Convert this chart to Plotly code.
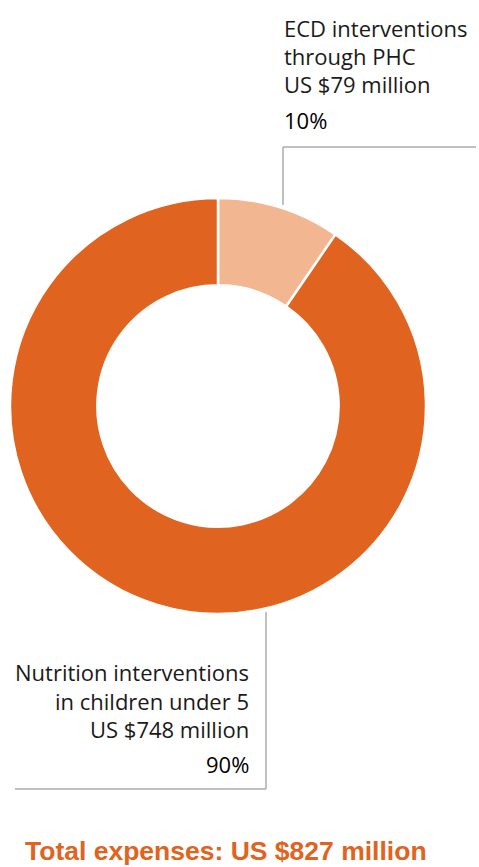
import plotly.graph_objects as go

labels = ["ECD interventions through PHC", "Nutrition interventions in children under 5"]
label_lines = [["ECD interventions", "through PHC"], ["Nutrition interventions", "in children under 5"]]
values = [79, 748]
colors = ["#F2B791", "#E06320"]

total = sum(values)
pcts = [round(v / total * 100) for v in values]

W, H = 479, 867
fig = go.Figure()
fig.add_trace(go.Pie(
    labels=labels, values=values, hole=0.58, sort=False, direction="clockwise",
    rotation=0, textinfo="none", hoverinfo="label+value+percent",
    marker=dict(colors=colors, line=dict(color="white", width=2.5)),
    domain=dict(x=[10 / W, 426 / W], y=[1 - 614 / H, 1 - 198 / H]),
    showlegend=False,
))

FONT = "Open Sans"
grey = "#ABABAB"
txt = "#1a1a1a"

def px(x):
    return x / W

def py(y):
    return 1 - y / H

anns = []
# ECD label (top right, left aligned)
ecd_lines = label_lines[0] + [f"US ${values[0]} million"]
for i, t in enumerate(ecd_lines):
    anns.append(dict(x=px(282), y=py(28 + 28 * i), text=t, xanchor="left", yanchor="middle",
                     showarrow=False, font=dict(family=FONT, size=22, color=txt)))
anns.append(dict(x=px(282), y=py(120), text=f"{pcts[0]}%", xanchor="left", yanchor="middle",
                 showarrow=False, font=dict(family=FONT, size=22, color="#000000")))
# Nutrition label (bottom left, right aligned)
nut_lines = label_lines[1] + [f"US ${values[1]} million"]
for i, t in enumerate(nut_lines):
    anns.append(dict(x=px(251), y=py(672 + 28.5 * i), text=t, xanchor="right", yanchor="middle",
                     showarrow=False, font=dict(family=FONT, size=22, color=txt)))
anns.append(dict(x=px(251), y=py(764), text=f"{pcts[1]}%", xanchor="right", yanchor="middle",
                 showarrow=False, font=dict(family=FONT, size=22, color="#000000")))
# Total
anns.append(dict(x=px(23), y=py(851), text=f"<b>Total expenses: US ${total} million</b>",
                 xanchor="left", yanchor="middle", showarrow=False,
                 font=dict(family="Liberation Sans", size=26.5, color="#E06320")))

shapes = [
    dict(type="line", xref="paper", yref="paper", x0=px(283), x1=px(283), y0=py(147), y1=py(205),
         line=dict(color=grey, width=1.5)),
    dict(type="line", xref="paper", yref="paper", x0=px(283), x1=px(476), y0=py(147), y1=py(147),
         line=dict(color=grey, width=1.5)),
    dict(type="line", xref="paper", yref="paper", x0=px(266), x1=px(266), y0=py(612), y1=py(789),
         line=dict(color=grey, width=1.5)),
    dict(type="line", xref="paper", yref="paper", x0=px(15), x1=px(266), y0=py(789), y1=py(789),
         line=dict(color=grey, width=1.5)),
]

fig.update_layout(width=W, height=H, margin=dict(l=0, r=0, t=0, b=0),
                  paper_bgcolor="white", plot_bgcolor="white",
                  annotations=anns, shapes=shapes)
fig.write_html("out.html", config={"displayModeBar": False},
               post_script="document.body.style.margin='0';")
